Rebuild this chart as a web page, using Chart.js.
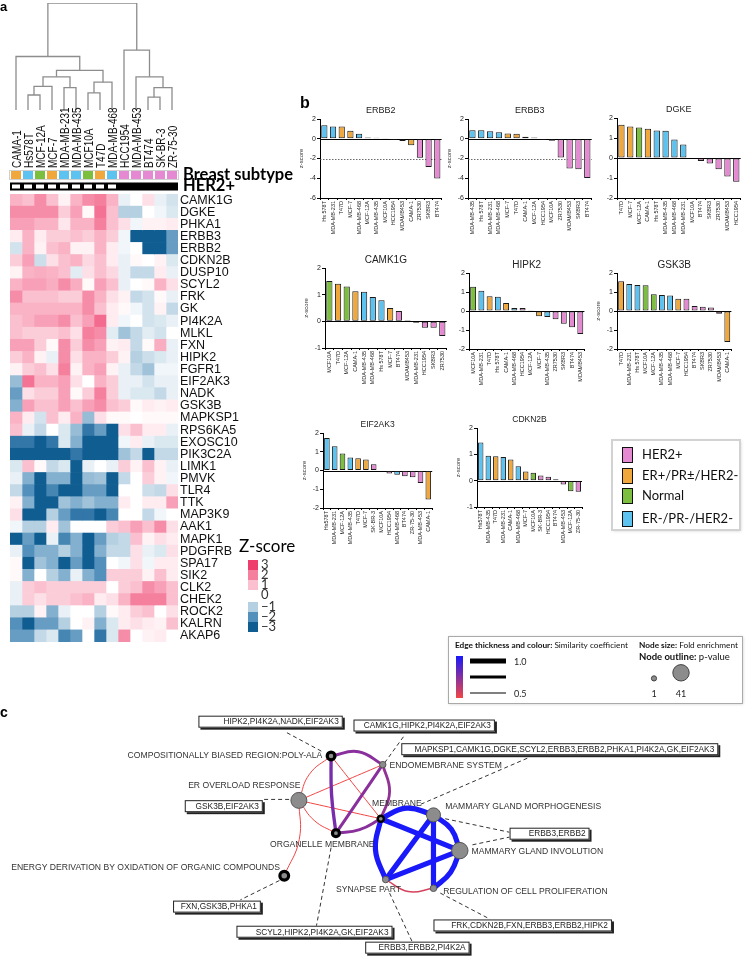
<!DOCTYPE html>
<html>
<head>
<meta charset="utf-8">
<script src="https://cdn.jsdelivr.net/npm/chart.js@4.4.1/dist/chart.umd.min.js"></script>
<style>
  body { margin: 0; background: #fff; width: 746px; height: 967px; position: relative; overflow: hidden; }
  canvas { position: absolute; }
</style>
</head>
<body>
<script>
// ---------- panel a : heatmap data ----------
const cellLines = ["CAMA-1", "Hs578T", "MCF-12A", "MCF-7", "MDA-MB-231", "MDA-MB-435", "MCF10A",
  "T47D", "MDA-MB-468", "HCC1954", "MDA-MB-453", "BT474", "SK-BR-3", "ZR-75-30"];
const cellSubtype = ["ER", "TN", "N", "ER", "TN", "TN", "N", "ER", "TN", "HER2", "HER2", "HER2", "HER2", "HER2"];
const genes = ["CAMK1G", "DGKE", "PHKA1", "ERBB3", "ERBB2", "CDKN2B", "DUSP10", "SCYL2", "FRK", "GK",
  "PI4K2A", "MLKL", "FXN", "HIPK2", "FGFR1", "EIF2AK3", "NADK", "GSK3B", "MAPKSP1", "RPS6KA5",
  "EXOSC10", "PIK3C2A", "LIMK1", "PMVK", "TLR4", "TTK", "MAP3K9", "AAK1", "MAPK1", "PDGFRB",
  "SPA17", "SIK2", "CLK2", "CHEK2", "ROCK2", "KALRN", "AKAP6"];
const zRows = [
  [1.2, 1.0, 1.8, 1.0, 0.2, 1.2, 1.8, 2.0, 1.2, -0.3, 0.0, 0.5, -0.3, -0.6],
  [1.8, 1.8, 1.8, 1.8, 0.8, 1.5, 0.1, 2.2, 1.0, -1.0, -1.0, 0.0, -0.2, -0.5],
  [1.5, 1.5, 1.2, 1.2, 0.4, 1.2, 1.2, 2.0, 1.0, 0.5, -0.2, 0.2, 0.2, 0.3],
  [0.3, 1.2, 0.3, 0.8, 0.8, 1.0, 0.8, 1.2, 0.8, -0.2, -3, -3, -3, -1.8],
  [-0.6, 1.2, 0.2, 1.0, 1.2, 0.2, 0.2, 1.2, 0.3, -0.2, 0.0, -3, -3, -1.8],
  [0.8, 1.5, -0.7, 0.5, 1.0, 1.2, 0.6, 1.0, 0.3, -0.3, 0.1, 0.0, 0.2, -0.5],
  [0.2, 1.2, 1.3, 1.2, 1.0, -0.4, 0.5, 1.0, 0.6, -0.3, -0.8, -0.8, 0.3, -0.3],
  [1.2, 1.5, 1.5, 1.3, 1.8, 1.3, 0.1, 1.5, 1.0, -0.3, 0.0, 0.1, 1.2, 0.5],
  [1.8, 1.0, 1.0, 1.0, 0.8, 0.8, 1.8, 1.2, 0.5, 0.2, -0.8, -0.6, 0.1, -0.3],
  [1.2, 1.2, 1.2, 1.2, 1.2, 1.2, 1.8, 1.0, 0.3, 0.1, -0.2, -0.6, 0.2, -0.8],
  [1.0, 1.2, 1.5, 1.5, 1.8, 1.0, 1.5, 2.3, 0.3, -0.2, 0.0, -0.6, -0.5, -0.3],
  [1.0, 0.8, 0.8, 0.8, 1.0, 0.5, 2.0, 1.8, -0.4, -1.2, -0.8, -0.4, -0.6, 0.0],
  [1.5, 1.5, 0.8, 0.1, 1.8, 0.8, 1.8, 1.5, 0.2, 0.3, -0.8, 0.1, 1.3, -0.3],
  [0.8, 1.2, 0.2, -0.3, 1.8, 0.5, 1.2, 1.2, 0.8, 0.2, -1.0, -0.7, -0.5, -0.3],
  [0.2, 0.8, 1.0, 0.5, 2.0, 0.2, 1.2, 1.5, 0.2, -0.3, -0.8, -1.2, -0.2, -0.2],
  [-1.3, 2.2, 1.2, 1.2, 1.5, 0.5, 0.0, 1.2, 0.8, -0.3, -0.3, -0.6, -0.3, -0.3],
  [-1.8, 0.5, 0.8, 0.8, 1.5, 0.1, 0.8, 2.0, 0.8, -0.3, -0.5, -0.5, -0.8, -0.3],
  [-1.5, 1.5, 1.0, 1.0, 1.5, 1.0, 1.5, 1.8, 1.0, 0.8, 0.1, 0.3, 0.2, 0.3],
  [1.2, 0.3, -0.6, 1.0, 0.3, 1.2, -1.3, 0.5, 0.1, 0.1, 0.0, 0.1, 0.1, 0.1],
  [1.0, -0.3, -0.8, 0.0, -0.5, -1.3, -2.5, -1.8, -3, 0.5, 1.0, 0.3, 0.3, -0.3],
  [-2.5, -2.5, -3, -2.5, -0.5, -1.5, -3, -3, -3, -0.2, 0.3, -0.3, -0.5, -0.5],
  [-3, -3, -3, -3, -3, -2.5, -3, -3, -3, -1.2, -0.8, -3, -0.8, -0.8],
  [-0.5, 1.0, 0.1, -0.8, -0.5, -3, -0.3, 0.0, -0.3, 0.8, 0.2, 1.0, 0.2, -0.3],
  [-0.3, -1.5, -3, -1.5, -1.5, -3, -1.3, -1.2, -3, -0.8, 0.0, 0.8, 0.2, -0.2],
  [-0.8, -2.0, -3, -2.2, -3, -3, -1.8, -1.8, -3, 0.0, 0.0, -0.7, -0.8, 0.5],
  [0.2, -1.5, -3, -3, -1.2, -1.5, -1.2, -1.5, -1.5, 0.3, 0.0, 0.3, 0.3, 1.5],
  [0.5, -3, -3, -1.0, -1.8, -2.5, -2.5, -3, -2.2, 0.0, 0.0, -0.8, -0.2, 0.0],
  [-0.2, -1.0, -1.0, 0.3, -1.2, 0.0, 0.0, 0.0, 0.8, 1.0, 1.5, 1.0, 1.8, 0.5],
  [-3, -1.8, -3, -0.3, -2.2, -1.5, -3, -1.8, -1.0, -0.8, 1.0, 0.2, 0.5, 0.3],
  [-0.3, -2.0, -1.5, -1.5, -1.0, -1.5, -3, -1.5, -0.8, -0.8, 0.5, -0.3, -0.5, 0.5],
  [0.1, -3, -1.2, -1.5, -3, -1.8, -3, -2.0, 0.0, -0.2, 0.5, -0.2, 0.3, 0.3],
  [0.1, -1.5, 0.0, -1.0, -1.5, -0.3, -1.5, -2.0, 0.8, 0.8, 0.8, 0.2, 1.0, 0.3],
  [-0.3, 0.8, 1.0, 0.8, 0.8, 0.8, 0.8, 0.8, 0.0, 0.8, 1.0, 1.8, 1.5, 1.0],
  [-0.3, 0.8, 0.5, 0.8, 0.8, 1.0, 1.2, 0.3, 0.5, 1.2, 2.0, 2.0, 2.0, 1.0],
  [-1.0, -1.0, 0.2, -1.5, -0.3, 0.0, 0.0, -1.0, 0.1, 0.3, 0.8, 1.0, 0.0, 0.5],
  [-2.0, -3, -1.8, -1.8, -1.0, 0.0, 0.2, -1.5, -0.5, 0.3, 0.5, 0.3, 0.2, 1.0],
  [-1.8, -1.8, -0.8, -0.5, -2.2, -1.8, 0.0, -2.5, -0.5, 1.8, 0.0, 0.2, 0.3, 0.0],
];
const zLegendTicks = [3, 2, 1, 0, -1, -2, -3];
// dendrogram merges: [left node, right node, height]; leaves are 0..13, merges numbered from 14
const dendroMerges = [
  [1, 2, 0.14], [14, 3, 0.22], [4, 5, 0.21], [6, 7, 0.16], [17, 8, 0.26], [15, 16, 0.31],
  [19, 18, 0.37], [0, 20, 0.50], [11, 12, 0.12], [22, 13, 0.21], [10, 23, 0.31], [9, 24, 0.56],
  [21, 25, 1.0],
];

// ---------- panel b : bar data ----------
const subtypeKeys = ["HER2", "ER", "N", "TN"];
const subtypeNames = ["HER2+", "ER+/PR\u00b1/HER2-", "Normal", "ER-/PR-/HER2-"];
const subtypeColors = ["#e58ad2", "#f0a73c", "#7cbf3f", "#5cc3f0"];

const erbb2Labels = ["Hs 578T", "MDA-MB-231", "T47D", "MCF-7", "MDA-MB-468", "MCF-12A", "MDA-MB-435",
  "MCF10A", "HCC1954", "MDAMB453", "CAMA-1", "ZR7530", "SKBR3", "BT474"];
const erbb2Values = [1.37, 1.23, 1.23, 0.8, 0.5, 0.13, 0.1, 0.07, -0.13, -0.23, -0.67, -1.93, -2.87, -4.03];
const erbb3Labels = ["MDA-MB-435", "Hs 578T", "MDA-MB-231", "MDA-MB-468", "MCF-7", "T47D", "CAMA-1",
  "MCF-12A", "HCC1954", "MCF10A", "ZR7530", "MDAMB453", "SKBR3", "BT474"];
const erbb3Values = [0.87, 0.87, 0.77, 0.67, 0.53, 0.5, 0.2, 0.13, -0.13, -0.2, -1.9, -3.0, -3.1, -3.97];
const dgkeLabels = ["T47D", "MCF-7", "MCF-12A", "CAMA-1", "Hs 578T", "MDA-MB-435", "MDA-MB-468",
  "MDA-MB-231", "MCF10A", "BT474", "SKBR3", "ZR7530", "MDAMB453", "HCC1954"];
const dgkeValues = [1.66, 1.58, 1.53, 1.46, 1.37, 1.36, 0.92, 0.68, 0.03, -0.15, -0.27, -0.56, -0.93, -1.19];
const camk1gLabels = ["MCF10A", "T47D", "MCF-12A", "CAMA-1", "MDA-MB-435", "MDA-MB-468", "Hs 578T",
  "MCF-7", "BT474", "MDAMB453", "MDA-MB-231", "HCC1954", "SKBR3", "ZR7530"];
const camk1gValues = [1.51, 1.41, 1.31, 1.13, 1.11, 0.91, 0.79, 0.5, 0.39, 0.04, -0.05, -0.24, -0.24, -0.55];
const hipk2Labels = ["MCF10A", "MDA-MB-231", "T47D", "Hs 578T", "CAMA-1", "MDA-MB-468", "HCC1954",
  "MCF-12A", "MCF-7", "MDA-MB-435", "ZR7530", "SKBR3", "BT474", "MDAMB453"];
const hipk2Values = [1.28, 1.07, 0.77, 0.75, 0.42, 0.16, 0.16, 0.01, -0.28, -0.32, -0.44, -0.67, -0.86, -1.21];
const gsk3bLabels = ["T47D", "MDA-MB-231", "Hs 578T", "MCF10A", "MCF-12A", "MDA-MB-435", "MDA-MB-468",
  "MCF-7", "HCC1954", "BT474", "SKBR3", "ZR7530", "MDAMB453", "CAMA-1"];
const gsk3bValues = [1.56, 1.42, 1.37, 1.35, 0.88, 0.84, 0.81, 0.65, 0.65, 0.26, 0.23, 0.19, -0.14, -1.63];
const eif2ak3Labels = ["Hs578T", "MDA-MB-231", "MCF-12A", "MDA-MB-435", "T47D", "MCF-7", "SK-BR-3",
  "MCF10A", "HCC1954", "MDA-MB-468", "BT474", "ZR-75-30", "MDA-MB-453", "CAMA-1"];
const eif2ak3Values = [1.73, 1.29, 0.91, 0.7, 0.66, 0.59, 0.34, 0.0, -0.16, -0.23, -0.3, -0.36, -0.66, -1.54];
const cdkn2bLabels = ["Hs578T", "MDA-MB-435", "T47D", "MDA-MB-231", "CAMA-1", "MDA-MB-468", "MCF-7",
  "MCF10A", "SK-BR-3", "HCC1954", "BT474", "MDA-MB-453", "MCF-12A", "ZR-75-30"];
const cdkn2bValues = [1.45, 0.95, 0.93, 0.9, 0.8, 0.55, 0.35, 0.3, 0.2, 0.15, 0.05, -0.15, -0.4, -0.42];

// ---------- panel c : enrichment network data ----------
const termNames = ["COMPOSITIONALLY BIASED REGION:POLY-ALA", "ER OVERLOAD RESPONSE", "ORGANELLE MEMBRANE",
  "ENDOMEMBRANE SYSTEM", "MEMBRANE", "ENERGY DERIVATION BY OXIDATION OF ORGANIC COMPOUNDS", "SYNAPSE PART",
  "MAMMARY GLAND MORPHOGENESIS", "MAMMARY GLAND INVOLUTION", "REGULATION OF CELL PROLIFERATION"];
const termFold = [3, 38, 2, 1.5, 1.3, 5, 1.5, 26, 41, 1.6];
const termOutline = [3.2, 1, 3.2, 1, 2.5, 3.2, 1, 1, 1, 1];
const edgeFrom = [0, 0, 3, 2, 3, 0, 0, 1, 1, 1, 1, 4, 4, 4, 7, 7, 7, 6, 8, 6];
const edgeTo = [3, 2, 2, 4, 4, 1, 4, 3, 4, 2, 5, 7, 6, 8, 8, 6, 9, 8, 9, 9];
const edgeSim = [0.74, 0.78, 0.74, 0.74, 0.72, 0.5, 0.5, 0.5, 0.5, 0.5, 0.5, 1, 1, 1, 1, 1, 1, 1, 1, 0.56];
const geneSets = ["HIPK2,PI4K2A,NADK,EIF2AK3", "CAMK1G,HIPK2,PI4K2A,EIF2AK3",
  "MAPKSP1,CAMK1G,DGKE,SCYL2,ERBB3,ERBB2,PHKA1,PI4K2A,GK,EIF2AK3", "GSK3B,EIF2AK3", "ERBB3,ERBB2",
  "FXN,GSK3B,PHKA1", "FRK,CDKN2B,FXN,ERBB3,ERBB2,HIPK2", "SCYL2,HIPK2,PI4K2A,GK,EIF2AK3", "ERBB3,ERBB2,PI4K2A"];
const legendSim = [1.0, 0.5];
const legendFold = [1, 41];

// ---------- layout (page pixels) ----------
const netLayout = {
  nodeX: [330, 297, 335, 383, 381, 282, 386, 435, 462, 435],
  nodeY: [758, 804, 838, 767, 823, 882, 886, 819, 856, 895],
  edgeBend: [-9, 2, 0, 4, -8, 7, 0, 0, 0, 5, -8, -9, 8, 0, -6, 0, 0, 0, -5, 8],
  labelX: [321, 241, 321, 390, 372, 2, 335, 447, 474, 445],
  labelY: [758, 789, 850, 768, 807, 874, 896, 810, 857, 898],
  labelAlign: ["right", "center", "center", "left", "left", "left", "left", "left", "left", "left"],
  boxL: [194, 353, 402, 180, 513, 168, 435, 233, 365],
  boxR: [342, 498, 727, 260, 595, 258, 618, 393, 472],
  boxY: [722.5, 726.5, 751, 810, 838.5, 914, 933.5, 940, 956.5],
  // dashed connectors: [x1, y1, x2, y2]
  links: [[320, 753, 283, 733], [385, 765, 405, 737], [422, 808, 532, 760], [287, 803, 260, 803],
    [447, 823, 513, 837], [475, 850, 513, 842], [277, 887, 237, 907], [442, 900, 493, 927],
    [330, 853, 315, 934], [390, 900, 413, 950]],
};

Chart.defaults.font.family = '"Liberation Sans", Arial, sans-serif';
Chart.defaults.color = "#222";

function mkCanvas(left, top, w, h) {
  const c = document.createElement("canvas");
  c.width = w; c.height = h;
  c.style.left = left + "px"; c.style.top = top + "px";
  document.body.appendChild(c);
  return c.getContext("2d");
}

function zColor(v) {
  const stops = [
    [-3, [16, 94, 145]], [-2, [84, 144, 188]], [-1, [180, 208, 225]], [0, [255, 255, 255]],
    [1, [250, 192, 207]], [2, [245, 128, 158]], [3, [238, 62, 108]],
  ];
  v = Math.max(-3, Math.min(3, v));
  for (let i = 0; i < stops.length - 1; i++) {
    const [a, ca] = stops[i], [b, cb] = stops[i + 1];
    if (v <= b) {
      const t = (v - a) / (b - a);
      const c = ca.map((x, k) => Math.round(x + (cb[k] - x) * t));
      return `rgb(${c[0]},${c[1]},${c[2]})`;
    }
  }
  return "rgb(238,62,108)";
}

function subtypeColorOf(name) {
  const norm = (s) => s.toUpperCase().replace(/[^A-Z0-9]/g, "");
  const j = cellLines.findIndex((c) => norm(c) === norm(name));
  return subtypeColors[subtypeKeys.indexOf(cellSubtype[j])];
}

// ============ dendrogram ============
function dendroSegments() {
  const xs = cellLines.map((_, i) => i + 0.5);
  const hs = cellLines.map(() => 0);
  const segs = [];
  for (const [l, r, h] of dendroMerges) {
    segs.push([{ x: xs[l], y: hs[l] }, { x: xs[l], y: h }, { x: xs[r], y: h }, { x: xs[r], y: hs[r] }]);
    xs.push((xs[l] + xs[r]) / 2);
    hs.push(h);
  }
  return segs;
}

new Chart(mkCanvas(0, 0, 200, 112), {
  type: "scatter",
  data: {
    datasets: dendroSegments().map((pts) => ({
      data: pts, showLine: true, borderColor: "#8d8d8d", borderWidth: 1.3, pointRadius: 0, tension: 0,
    })),
  },
  options: {
    responsive: false, animation: false,
    layout: { padding: { left: 10, right: 22, top: 3, bottom: 2 } },
    plugins: { legend: { display: false }, tooltip: { enabled: false } },
    scales: { x: { type: "linear", min: 0, max: 14, display: false }, y: { min: 0, max: 1, display: false } },
  },
});

// ============ heatmap ============
const heatDecor = {
  id: "heatDecor",
  afterDraw(chart) {
    const { ctx, scales: { x } } = chart;
    const left = x.getPixelForValue(0), right = x.getPixelForValue(14);
    const w = x.getPixelForValue(1) - left;
    ctx.save();
    // panel letters
    ctx.fillStyle = "#000";
    ctx.font = 'bold 13px "Liberation Sans"';
    ctx.fillText("a", 0, 11);
    ctx.font = 'bold 16px "Liberation Sans"';
    ctx.fillText("b", 300, 108);
    // column labels
    ctx.font = '12.5px "Liberation Sans"';
    ctx.fillStyle = "#111";
    cellLines.forEach((name, j) => {
      ctx.save();
      ctx.translate(x.getPixelForValue(j + 0.5) + 4.5, 168);
      ctx.rotate(-Math.PI / 2);
      ctx.scale(0.8, 1);
      ctx.textAlign = "left";
      ctx.fillText(name, 0, 0);
      ctx.restore();
    });
    // subtype row
    ctx.strokeStyle = "#cfcfcf"; ctx.lineWidth = 1;
    ctx.strokeRect(left - 0.5, 170.5, right - left + 1, 9);
    cellSubtype.forEach((s, j) => {
      ctx.fillStyle = subtypeColors[subtypeKeys.indexOf(s)];
      ctx.fillRect(left + j * w + 1, 171, w - 2, 8);
    });
    // HER2+ row
    ctx.fillStyle = "#000";
    ctx.fillRect(left, 182.5, right - left, 8);
    cellSubtype.forEach((s, j) => {
      if (s !== "HER2") {
        ctx.fillStyle = "#fff";
        ctx.fillRect(left + j * w + 2, 184.5, w - 4, 4);
      }
    });
    ctx.fillStyle = "#000";
    ctx.font = 'bold 16.5px Lato';
    ctx.fillText("Breast subtype", 183, 180);
    ctx.fillText("HER2+", 183, 191);
    // z-score colour key
    ctx.font = '17px Lato';
    ctx.fillText("Z-score", 239, 552);
    ctx.font = '13px Lato';
    ctx.textBaseline = "middle";
    const keyTop = [560, 570, 580, 590, 602, 612, 622];
    zLegendTicks.forEach((v, i) => {
      ctx.fillStyle = zColor(v);
      ctx.fillRect(248, keyTop[i], 10, 10);
      ctx.fillStyle = "#333";
      ctx.fillText(v < 0 ? "\u2212" + Math.abs(v) : String(v), 261, keyTop[i] + 5);
    });
    ctx.restore();
  },
};

new Chart(mkCanvas(0, 0, 320, 660), {
  type: "bar",
  data: {
    labels: genes,
    datasets: cellLines.map((c, j) => ({
      label: c,
      data: genes.map(() => 1),
      backgroundColor: zRows.map((row) => zColor(row[j])),
      borderWidth: 0,
      barPercentage: 1,
      categoryPercentage: 1,
    })),
  },
  options: {
    indexAxis: "y",
    responsive: false, animation: false,
    layout: { padding: { top: 194, left: 10, bottom: 18, right: 0 } },
    plugins: { legend: { display: false }, tooltip: { enabled: false } },
    scales: {
      x: { stacked: true, min: 0, max: 14, display: false },
      y: {
        stacked: true, position: "right",
        grid: { display: false, drawTicks: false }, border: { display: false },
        ticks: { font: { size: 12.5 }, color: "#111", padding: 2, autoSkip: false },
        afterFit(s) { s.width = 142; },
      },
    },
  },
  plugins: [heatDecor],
});

// ============ small bar charts ============
const panelTitle = {
  id: "panelTitle",
  afterDraw(chart, args, opts) {
    const { ctx, chartArea: a } = chart;
    ctx.save();
    ctx.font = `${opts.size}px "Liberation Sans"`;
    ctx.fillStyle = "#222"; ctx.textAlign = "center"; ctx.textBaseline = "middle";
    ctx.fillText(opts.text, (a.left + a.right) / 2, a.top - 8);
    ctx.restore();
  },
};
const refLines = {
  id: "refLines",
  beforeDatasetsDraw(chart, args, opts) {
    const { ctx, chartArea: a, scales: { y } } = chart;
    ctx.save();
    if (opts.cut != null) {
      ctx.strokeStyle = "#444"; ctx.lineWidth = 0.8; ctx.setLineDash([1.5, 1.5]);
      const yc = Math.round(y.getPixelForValue(opts.cut)) + 0.5;
      ctx.beginPath(); ctx.moveTo(a.left, yc); ctx.lineTo(a.right, yc); ctx.stroke();
      ctx.setLineDash([]);
    }
    ctx.strokeStyle = "#000"; ctx.lineWidth = 1;
    const y0 = Math.round(y.getPixelForValue(0)) + 0.5;
    ctx.beginPath(); ctx.moveTo(a.left, y0); ctx.lineTo(a.right, y0); ctx.stroke();
    ctx.restore();
  },
};

const panels = [
  { gene: "ERBB2", labels: erbb2Labels, values: erbb2Values, min: -6, max: 2, step: 2, cut: -2, ytitle: true, size: 9 },
  { gene: "ERBB3", labels: erbb3Labels, values: erbb3Values, min: -6, max: 2, step: 2, cut: -2, ytitle: true, size: 9 },
  { gene: "DGKE", labels: dgkeLabels, values: dgkeValues, min: -2, max: 2, step: 1, cut: null, ytitle: false, size: 9 },
  { gene: "CAMK1G", labels: camk1gLabels, values: camk1gValues, min: -1, max: 2, step: 1, cut: null, ytitle: true, size: 10 },
  { gene: "HIPK2", labels: hipk2Labels, values: hipk2Values, min: -2, max: 2, step: 1, cut: null, ytitle: false, size: 10 },
  { gene: "GSK3B", labels: gsk3bLabels, values: gsk3bValues, min: -2, max: 2, step: 1, cut: null, ytitle: true, size: 10 },
  { gene: "EIF2AK3", labels: eif2ak3Labels, values: eif2ak3Values, min: -2, max: 2, step: 1, cut: null, ytitle: true, size: 8.5 },
  { gene: "CDKN2B", labels: cdkn2bLabels, values: cdkn2bValues, min: -1, max: 2, step: 1, cut: null, ytitle: true, size: 8.5 },
];
// plot areas [left, top, width, height]
const panelAreas = [
  [320, 119, 122, 79], [468, 119, 124, 79], [617, 118, 124, 80],
  [325, 268, 122, 80], [469, 273, 116, 76], [617, 273, 115, 76],
  [323, 433, 110, 75], [477, 428, 106, 79],
];

panels.forEach((p, i) => {
  const [ax, ay, aw, ah] = panelAreas[i];
  const yw = 22, top = 16, xh = 45, right = 3;
  new Chart(mkCanvas(ax - yw, ay - top, aw + yw + right, ah + top + xh), {
    type: "bar",
    data: {
      labels: p.labels,
      datasets: [{
        data: p.values,
        backgroundColor: p.labels.map(subtypeColorOf),
        borderColor: "#1a1a1a", borderWidth: 1, borderSkipped: false,
        barPercentage: 0.78, categoryPercentage: 0.92,
      }],
    },
    options: {
      responsive: false, animation: false,
      layout: { padding: { top: top, right: right, left: 0, bottom: 0 } },
      plugins: {
        legend: { display: false }, tooltip: { enabled: false },
        panelTitle: { text: p.gene, size: p.size }, refLines: { cut: p.cut },
      },
      scales: {
        x: {
          grid: { drawOnChartArea: false, color: "#000", tickLength: 2 },
          border: { color: "#000", width: 1 },
          ticks: { autoSkip: false, minRotation: 90, maxRotation: 90, font: { size: 5.5 }, color: "#222", padding: 1 },
          afterFit(s) { s.height = xh; },
        },
        y: {
          min: p.min, max: p.max,
          ticks: { stepSize: p.step, font: { size: 7 }, color: "#222", padding: 1 },
          grid: { drawOnChartArea: false, color: "#000", tickLength: 3 },
          border: { color: "#000", width: 1 },
          title: { display: p.ytitle, text: "z-score", font: { size: 6 }, padding: 0, color: "#333" },
          afterFit(s) { s.width = yw; },
        },
      },
    },
    plugins: [panelTitle, refLines],
  });
});

// ============ network (panel c) + legends ============
function simColor(s) {
  const t = Math.max(0, Math.min(1, (s - 0.5) / 0.5));
  const r = Math.round(240 + (25 - 240) * t), g = Math.round(70 + (25 - 70) * t), b = Math.round(70 + (250 - 70) * t);
  return `rgb(${r},${g},${b})`;
}
const simWidth = (s) => 1 + (s - 0.5) / 0.5 * 4.2;
const foldRadius = (f) => 2.6 + 5.6 * Math.sqrt((f - 1) / 40);

const nodeData = termNames.map((_, i) => ({ x: netLayout.nodeX[i], y: netLayout.nodeY[i] }));
const edgeSets = edgeFrom.map((a, k) => {
  const b = edgeTo[k];
  const p = nodeData[a], q = nodeData[b];
  const dx = q.x - p.x, dy = q.y - p.y, len = Math.hypot(dx, dy);
  const bend = netLayout.edgeBend[k];
  const mid = { x: (p.x + q.x) / 2 - dy / len * bend, y: (p.y + q.y) / 2 + dx / len * bend };
  return {
    data: [p, mid, q], showLine: true, tension: 0.45, pointRadius: 0,
    borderColor: simColor(edgeSim[k]), borderWidth: simWidth(edgeSim[k]),
  };
});
const linkSets = netLayout.links.map((l) => ({
  data: [{ x: l[0], y: l[1] }, { x: l[2], y: l[3] }], showLine: true, pointRadius: 0,
  borderColor: "#333", borderWidth: 1, borderDash: [4, 3],
}));

const netDecor = {
  id: "netDecor",
  afterDatasetsDraw(chart) {
    const { ctx, scales: { x, y } } = chart;
    ctx.save();
    // node labels
    ctx.font = '8.6px "Liberation Sans"';
    ctx.fillStyle = "#333"; ctx.textBaseline = "middle";
    termNames.forEach((t, i) => {
      ctx.textAlign = netLayout.labelAlign[i];
      ctx.fillText(t, x.getPixelForValue(netLayout.labelX[i]), y.getPixelForValue(netLayout.labelY[i]));
    });
    // gene boxes
    ctx.font = '8.3px "Liberation Sans"';
    geneSets.forEach((g, i) => {
      const l = x.getPixelForValue(netLayout.boxL[i]), r = x.getPixelForValue(netLayout.boxR[i]);
      const cy = y.getPixelForValue(netLayout.boxY[i]);
      ctx.fillStyle = "#222";
      ctx.fillRect(l + 2, cy - 4, r - l, 12);
      ctx.fillStyle = "#fff";
      ctx.fillRect(l, cy - 6, r - l, 12);
      ctx.strokeStyle = "#222"; ctx.lineWidth = 1;
      ctx.strokeRect(l + 0.5, cy - 5.5, r - l - 1, 11);
      ctx.fillStyle = "#222"; ctx.textAlign = "right";
      ctx.fillText(g, r - 4, cy + 0.5);
    });
    ctx.restore();
  },
  afterDraw(chart) {
    const { ctx } = chart;
    const Y = (v) => v - 430; // canvas starts at page y 430
    ctx.save();
    ctx.fillStyle = "#000";
    ctx.font = 'bold 14px "Liberation Sans"';
    ctx.fillText("c", 0, Y(717));
    // panel b legend
    ctx.shadowColor = "rgba(0,0,0,0.18)"; ctx.shadowBlur = 3; ctx.shadowOffsetX = 1; ctx.shadowOffsetY = 1;
    ctx.fillStyle = "#fff";
    ctx.fillRect(612, Y(440), 128, 90);
    ctx.shadowColor = "transparent";
    ctx.strokeStyle = "#d2d2d2"; ctx.lineWidth = 2;
    ctx.strokeRect(612, Y(440), 128, 90);
    const swY = [447, 468, 488, 511];
    ctx.font = "13px Lato"; ctx.textBaseline = "middle";
    subtypeNames.forEach((n, i) => {
      ctx.fillStyle = subtypeColors[i];
      ctx.fillRect(622, Y(swY[i]), 10, 15);
      ctx.strokeStyle = "#111"; ctx.lineWidth = 1;
      ctx.strokeRect(622.5, Y(swY[i]) + 0.5, 10, 15);
      ctx.fillStyle = "#111";
      ctx.fillText(n, 642, Y(swY[i] + 8));
    });
    // network legend
    ctx.shadowColor = "rgba(0,0,0,0.2)"; ctx.shadowBlur = 3; ctx.shadowOffsetX = 1; ctx.shadowOffsetY = 1;
    ctx.fillStyle = "#fff";
    ctx.fillRect(448, Y(636), 294, 67);
    ctx.shadowColor = "transparent";
    ctx.strokeStyle = "#aaa"; ctx.lineWidth = 1;
    ctx.strokeRect(448.5, Y(636) + 0.5, 294, 67);
    const mixed = (bold, rest, x0, y0, maxW) => {
      let size = 9.5, wb, wr;
      do {
        ctx.font = `bold ${size}px Lato`; wb = ctx.measureText(bold).width;
        ctx.font = `${size}px Lato`; wr = ctx.measureText(rest).width;
        size -= 0.25;
      } while (wb + wr > maxW && size > 5);
      size += 0.25;
      ctx.fillStyle = "#111"; ctx.textAlign = "left";
      ctx.font = `bold ${size}px Lato`;
      ctx.fillText(bold, x0, Y(y0));
      ctx.font = `${size}px Lato`;
      ctx.fillText(rest, x0 + wb, Y(y0));
    };
    ctx.textBaseline = "middle";
    mixed("Edge thickness and colour:", " Similarity coefficient", 455, 645, 176);
    mixed("Node size:", " Fold enrichment", 639, 645, 100);
    mixed("Node outline:", " p-value", 639, 657, 100);
    const grad = ctx.createLinearGradient(0, Y(656), 0, Y(698));
    grad.addColorStop(0, simColor(legendSim[0]));
    grad.addColorStop(0.5, simColor((legendSim[0] + legendSim[1]) / 2));
    grad.addColorStop(1, simColor(legendSim[1]));
    ctx.fillStyle = grad;
    ctx.fillRect(456, Y(656), 7, 42);
    ctx.strokeStyle = "#000";
    [[661, simWidth(legendSim[0])], [677, simWidth((legendSim[0] + legendSim[1]) / 2)], [693, simWidth(legendSim[1])]]
      .forEach(([yy, lw]) => {
        ctx.lineWidth = lw;
        ctx.beginPath(); ctx.moveTo(470, Y(yy)); ctx.lineTo(506, Y(yy)); ctx.stroke();
      });
    ctx.font = "9px Lato"; ctx.fillStyle = "#222";
    ctx.fillText(legendSim[0].toFixed(1), 514, Y(662));
    ctx.fillText(legendSim[1].toFixed(1), 514, Y(694));
    const cx = [654, 681];
    legendFold.forEach((f, i) => {
      const r = foldRadius(f);
      ctx.beginPath(); ctx.arc(cx[i], Y(681 - r), r, 0, Math.PI * 2);
      ctx.fillStyle = "#8c8c8c"; ctx.fill();
      ctx.strokeStyle = "#444"; ctx.lineWidth = 1; ctx.stroke();
      ctx.fillStyle = "#222"; ctx.textAlign = "center";
      ctx.fillText(String(f), cx[i], Y(694));
    });
    ctx.restore();
  },
};

new Chart(mkCanvas(0, 430, 746, 537), {
  type: "scatter",
  data: {
    datasets: [
      {
        data: nodeData,
        pointRadius: termFold.map(foldRadius),
        pointBackgroundColor: "#8c8c8c",
        pointBorderColor: termOutline.map((w) => (w > 1.5 ? "#000" : "#555")),
        pointBorderWidth: termOutline,
      },
      ...edgeSets,
      ...linkSets,
    ],
  },
  options: {
    responsive: false, animation: false,
    layout: { padding: 0 },
    plugins: { legend: { display: false }, tooltip: { enabled: false } },
    scales: {
      x: { type: "linear", min: 0, max: 746, display: false },
      y: { type: "linear", min: 430, max: 967, reverse: true, display: false },
    },
  },
  plugins: [netDecor],
});
</script>
</body>
</html>
